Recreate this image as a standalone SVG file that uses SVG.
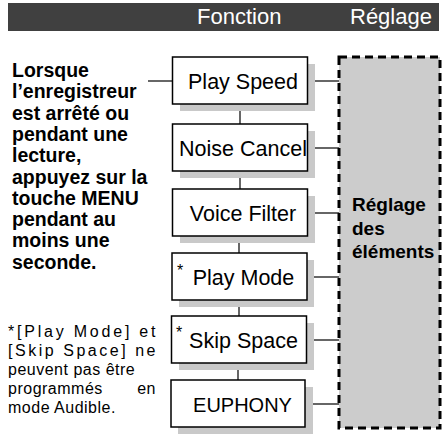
<svg xmlns="http://www.w3.org/2000/svg" width="446" height="434" viewBox="0 0 446 434">
<style>
.box{fill:#ffffff;stroke:#000000;stroke-width:1.5}
.sh{fill:#c9c9c9}
.lbl{font-family:"Liberation Sans",Arial,sans-serif;font-size:21.5px;fill:#000;text-anchor:middle}
.ast{font-family:"Liberation Sans",Arial,sans-serif;font-size:16px;fill:#000}
.hd{font-family:"Liberation Sans",Arial,sans-serif;font-size:22px;fill:#ffffff}
.bold{font-family:"Liberation Sans",Arial,sans-serif;font-size:19.5px;font-weight:bold;fill:#000}
.bold2{font-family:"Liberation Sans",Arial,sans-serif;font-size:19px;font-weight:bold;fill:#000}
.note{font-family:"Liberation Sans",Arial,sans-serif;font-size:16px;fill:#000;letter-spacing:0.5px}
.con{stroke:#000;stroke-width:1.2;fill:none}
</style>
<rect width="446" height="434" fill="#ffffff"/>
<g id="header">
<rect x="8" y="3" width="431" height="28" fill="#404040"/>
<text class="hd" x="197" y="24">Fonction</text>
<text class="hd" x="350" y="24">Réglage</text>
</g>
<g id="instructions">
<text class="bold" x="12" y="77">Lorsque</text>
<text class="bold" x="12" y="98.3">l’enregistreur</text>
<text class="bold" x="12" y="119.6">est arrêté ou</text>
<text class="bold" x="12" y="140.9">pendant une</text>
<text class="bold" x="12" y="162.2">lecture,</text>
<text class="bold" x="12" y="183.5">appuyez sur la</text>
<text class="bold" x="12" y="204.8">touche MENU</text>
<text class="bold" x="12" y="226.1">pendant au</text>
<text class="bold" x="12" y="247.4">moins une</text>
<text class="bold" x="12" y="268.7">seconde.</text>
</g>
<g id="footnote">
<text class="note" x="8" y="337" textLength="148" lengthAdjust="spacing">*[Play Mode] et</text>
<text class="note" x="8" y="356" textLength="148" lengthAdjust="spacing">[Skip Space] ne</text>
<text class="note" x="8" y="375">peuvent pas être</text>
<text class="note" x="8" y="394">programmés</text>
<text class="note" x="156" y="394" text-anchor="end" letter-spacing="0">en</text>
<text class="note" x="8" y="413">mode Audible.</text>
</g>
<g id="settings">
<rect x="339" y="57" width="101" height="371" fill="#cccccc" stroke="#000" stroke-width="3" stroke-dasharray="8 5"/>
<text class="bold2" x="352" y="211">Réglage</text>
<text class="bold2" x="352" y="234.5">des</text>
<text class="bold2" x="352" y="258">éléments</text>
</g>
<g id="connectors">
<line class="con" x1="148" y1="81" x2="172" y2="81"/>
<line class="con" x1="240" y1="104" x2="240" y2="124"/>
<line class="con" x1="240" y1="171" x2="240" y2="189"/>
<line class="con" x1="239" y1="236" x2="239" y2="253"/>
<line class="con" x1="239" y1="300" x2="239" y2="316"/>
<line class="con" x1="238" y1="363" x2="238" y2="380"/>
<line class="con" x1="315" y1="81" x2="339" y2="81"/>
<line class="con" x1="315" y1="148" x2="339" y2="148"/>
<line class="con" x1="315" y1="213" x2="339" y2="213"/>
<line class="con" x1="314" y1="277" x2="339" y2="277"/>
<line class="con" x1="314" y1="340" x2="339" y2="340"/>
<line class="con" x1="313" y1="404" x2="339" y2="404"/>
</g>
<g id="play-speed">
<rect class="sh" x="180" y="64" width="135" height="47"/>
<rect class="box" x="172.5" y="57" width="135" height="47"/>
<text class="lbl" x="243" y="88.5">Play Speed</text>
</g>
<g id="noise-cancel">
<rect class="sh" x="180" y="131" width="135" height="47"/>
<rect class="box" x="172.5" y="124" width="135" height="47"/>
<text class="lbl" x="243" y="156">Noise Cancel</text>
</g>
<g id="voice-filter">
<rect class="sh" x="180" y="196" width="135" height="47"/>
<rect class="box" x="172.5" y="189" width="135" height="47"/>
<text class="lbl" x="243" y="221">Voice Filter</text>
</g>
<g id="play-mode">
<rect class="sh" x="179" y="260" width="135" height="47"/>
<rect class="box" x="172" y="253" width="135" height="47"/>
<text class="ast" x="177" y="276">*</text>
<text class="lbl" x="243.5" y="285">Play Mode</text>
</g>
<g id="skip-space">
<rect class="sh" x="179" y="323" width="135" height="47"/>
<rect class="box" x="171.5" y="316" width="135" height="47"/>
<text class="ast" x="176" y="338">*</text>
<text class="lbl" x="243.5" y="348">Skip Space</text>
</g>
<g id="euphony">
<rect class="sh" x="178" y="387" width="135" height="47"/>
<rect class="box" x="171" y="380" width="134" height="47"/>
<text class="lbl" x="242.5" y="411.5" style="font-size:20px">EUPHONY</text>
</g>
</svg>
